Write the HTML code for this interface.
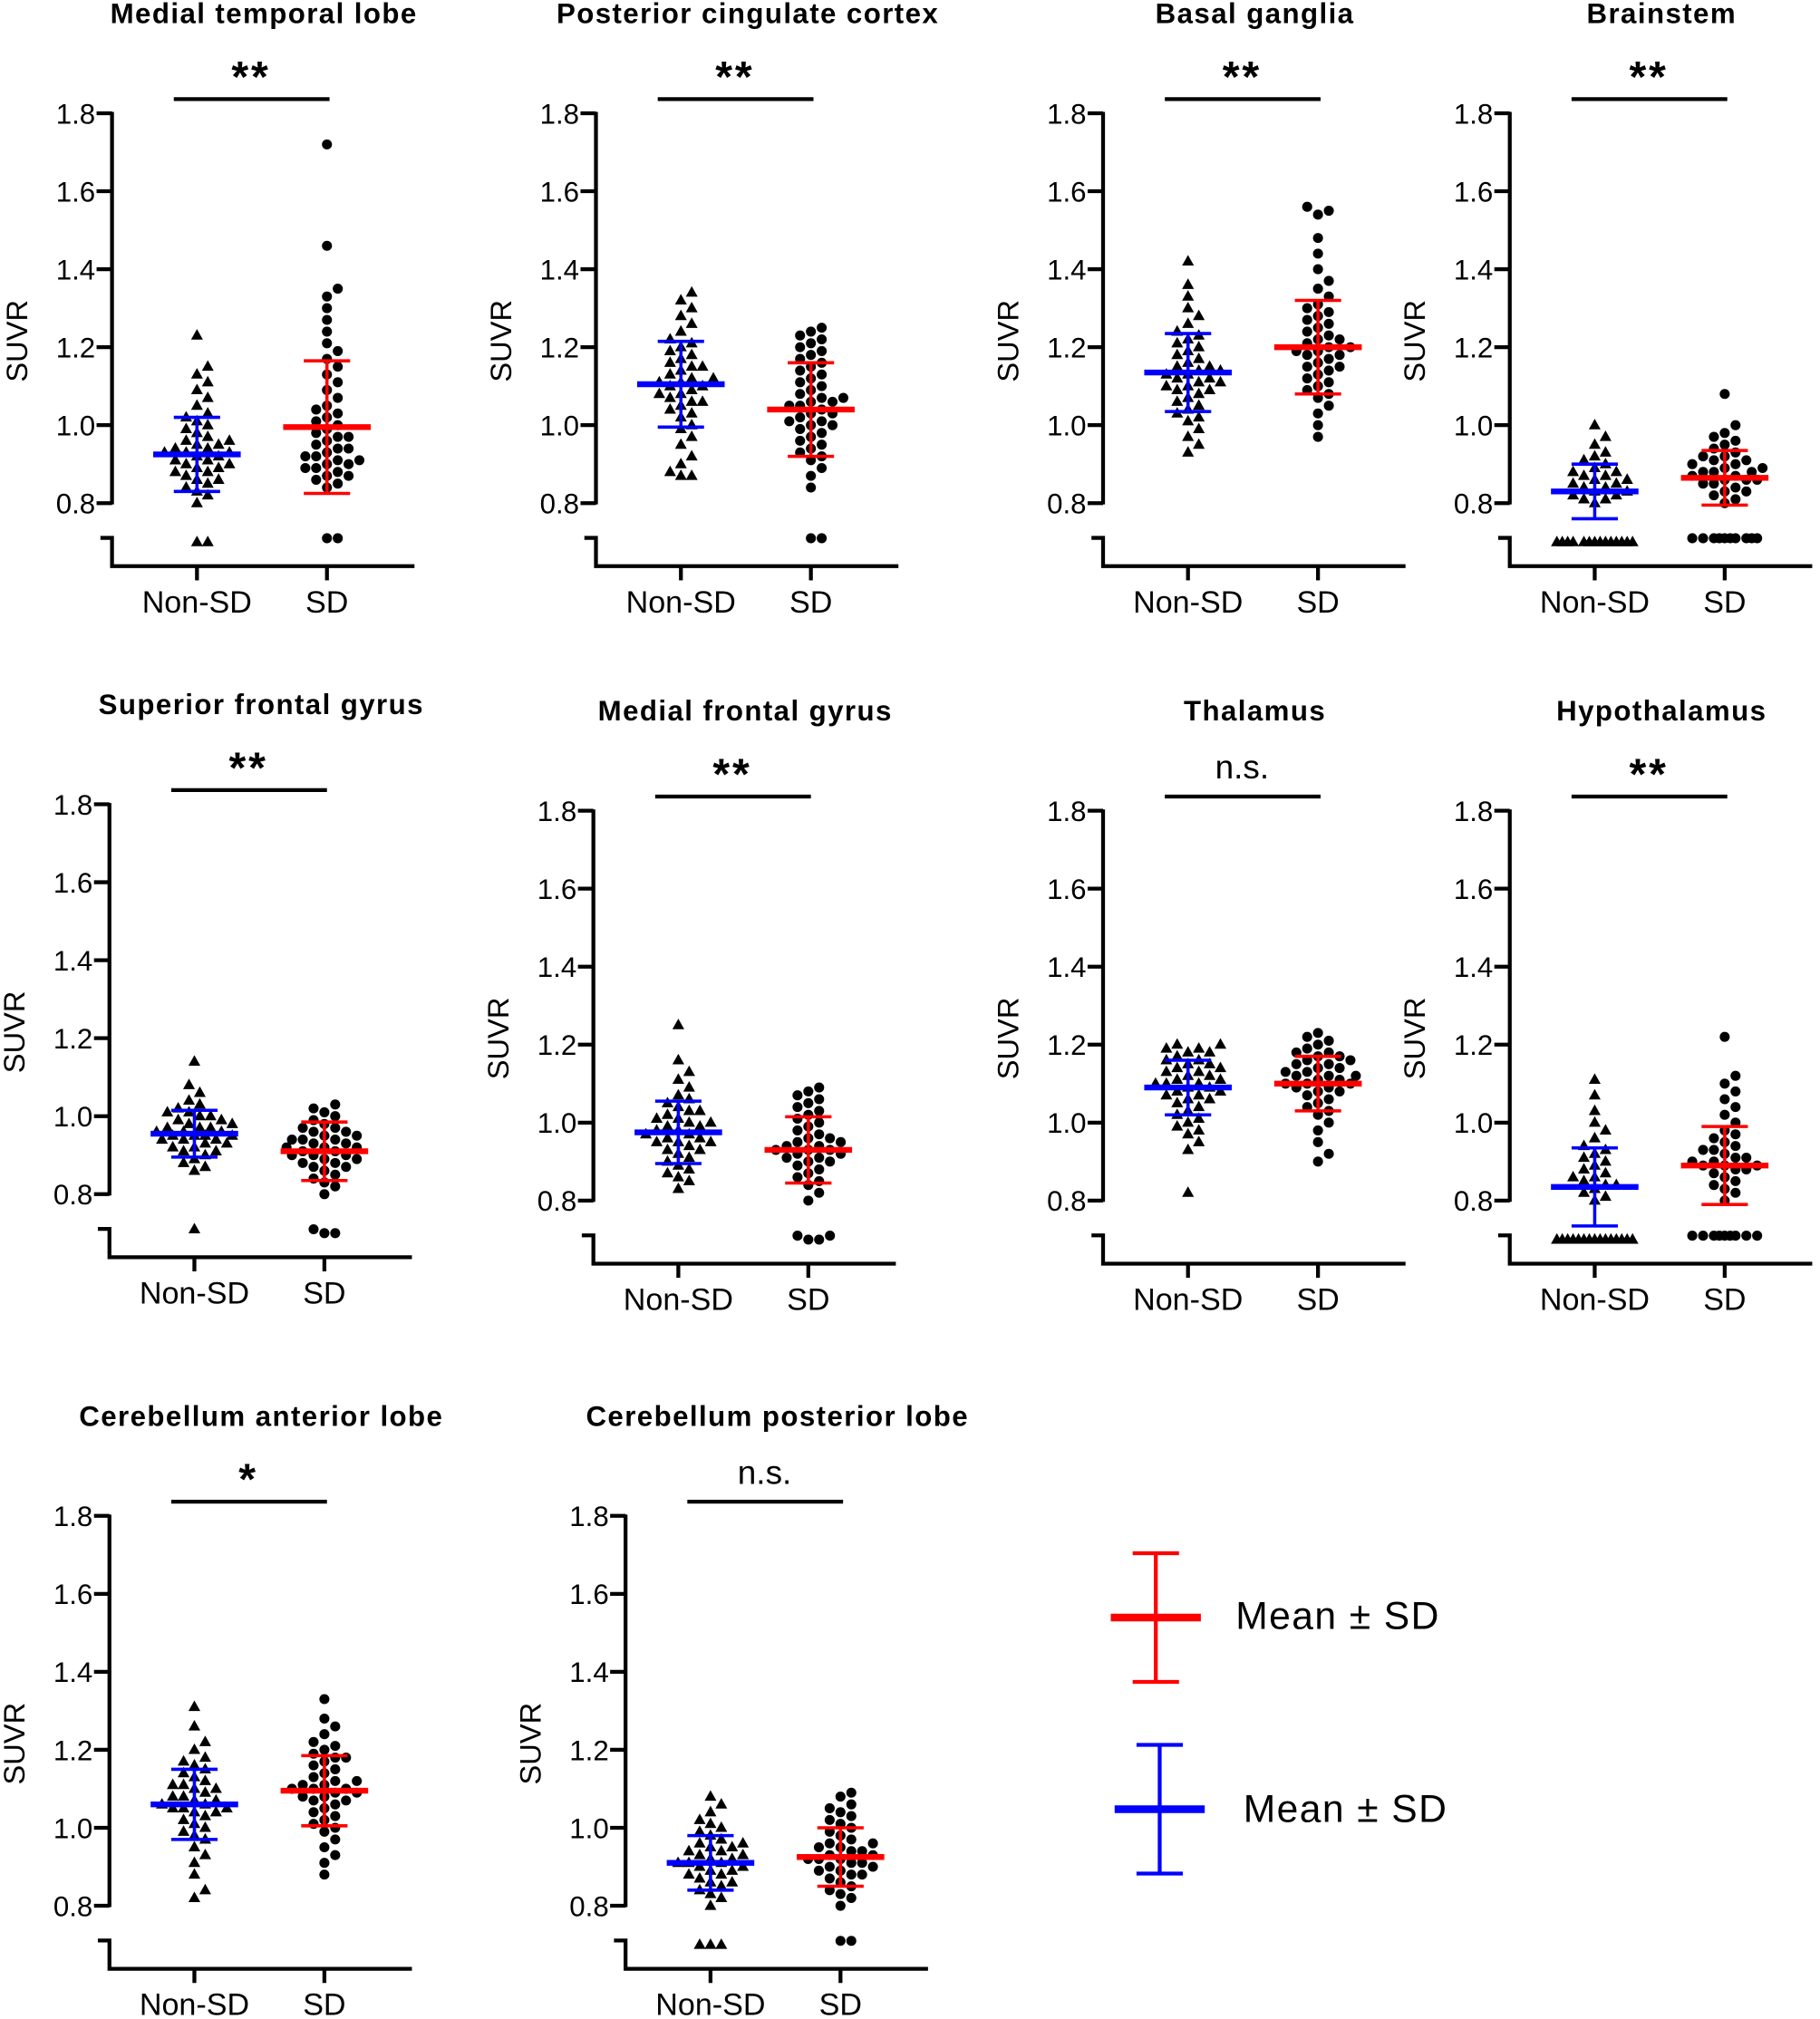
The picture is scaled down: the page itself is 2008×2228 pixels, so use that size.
<!DOCTYPE html>
<html><head><meta charset="utf-8">
<style>
html,body{margin:0;padding:0;background:#fff;}
svg{display:block;}
text{font-family:"Liberation Sans",Arial,sans-serif;fill:#000;}
</style></head>
<body>
<svg id="fig" width="2008" height="2228" viewBox="0 0 1414 1569" xmlns="http://www.w3.org/2000/svg"></svg>
<script>
// ---- chart data ----
const titles = ["Medial temporal lobe","Posterior cingulate cortex","Basal ganglia","Brainstem","Superior frontal gyrus","Medial frontal gyrus","Thalamus","Hypothalamus","Cerebellum anterior lobe","Cerebellum posterior lobe"];
const significance = ["**","**","**","**","**","**","n.s.","**","*","n.s."];
const categories = ["Non-SD","SD"];
const yTicks = [0.8,1.0,1.2,1.4,1.6,1.8];
const yTickLabels = ["0.8","1.0","1.2","1.4","1.6","1.8"];
const meanNonSD = [0.925,1.105,1.135,0.83,0.955,0.975,1.09,0.835,1.06,0.91];
const sdNonSD   = [0.095,0.11,0.10,0.07,0.06,0.08,0.07,0.10,0.09,0.07];
const meanSD    = [0.995,1.04,1.20,0.865,0.91,0.93,1.10,0.89,1.095,0.925];
const sdSD      = [0.17,0.12,0.12,0.07,0.075,0.085,0.07,0.10,0.09,0.075];
const valsNonSD = [
[0.70,0.70,0.82,0.84,0.85,0.86,0.86,0.87,0.88,0.88,0.89,0.90,0.90,0.91,0.91,0.92,0.92,0.93,0.93,0.94,0.94,0.95,0.95,0.96,0.96,0.97,0.98,0.99,1.00,1.01,1.02,1.03,1.05,1.07,1.09,1.11,1.13,1.15,0.83,0.80,0.89,0.93,1.23],
[0.87,0.88,0.90,0.92,0.95,0.97,0.99,1.00,1.02,1.03,1.04,1.05,1.06,1.07,1.08,1.09,1.10,1.10,1.11,1.12,1.12,1.13,1.14,1.15,1.15,1.16,1.17,1.18,1.19,1.20,1.21,1.22,1.24,1.26,1.28,1.30,1.32,1.34,1.11,1.06,0.87,1.08],
[0.93,0.95,0.97,0.99,1.01,1.03,1.04,1.05,1.06,1.07,1.08,1.09,1.10,1.10,1.11,1.12,1.12,1.13,1.13,1.14,1.14,1.15,1.15,1.16,1.17,1.18,1.19,1.20,1.21,1.22,1.23,1.24,1.26,1.28,1.30,1.33,1.36,1.42,1.11,1.09,1.02],
[0.70,0.70,0.70,0.70,0.70,0.70,0.70,0.70,0.70,0.70,0.70,0.70,0.70,0.70,0.80,0.81,0.82,0.82,0.83,0.84,0.84,0.85,0.85,0.86,0.86,0.87,0.87,0.88,0.88,0.89,0.90,0.91,0.92,0.93,0.95,0.97,1.00,0.83,0.81],
[0.71,0.86,0.87,0.88,0.89,0.90,0.91,0.91,0.92,0.92,0.93,0.93,0.94,0.94,0.95,0.95,0.95,0.96,0.96,0.96,0.97,0.97,0.98,0.98,0.99,0.99,1.00,1.00,1.01,1.01,1.02,1.03,1.04,1.06,1.08,1.14,0.94,0.97,0.95],
[0.83,0.85,0.86,0.87,0.88,0.89,0.90,0.91,0.92,0.93,0.93,0.94,0.95,0.95,0.96,0.96,0.97,0.97,0.98,0.98,0.99,1.00,1.00,1.01,1.01,1.02,1.03,1.03,1.04,1.05,1.06,1.07,1.09,1.11,1.13,1.16,1.25,0.95,0.99],
[0.82,0.93,0.95,0.97,0.98,0.99,1.00,1.01,1.02,1.03,1.04,1.05,1.06,1.07,1.07,1.08,1.08,1.09,1.09,1.10,1.10,1.11,1.11,1.12,1.12,1.13,1.13,1.14,1.14,1.15,1.15,1.16,1.16,1.17,1.18,1.18,1.19,1.19,1.20,1.20,1.06,1.10],
[0.70,0.70,0.70,0.70,0.70,0.70,0.70,0.70,0.70,0.70,0.70,0.70,0.70,0.70,0.70,0.80,0.81,0.82,0.83,0.84,0.85,0.86,0.87,0.88,0.89,0.90,0.91,0.92,0.93,0.94,0.96,0.98,1.00,1.03,1.07,1.11,0.84,0.86],
[0.82,0.84,0.88,0.91,0.93,0.95,0.97,0.98,0.99,1.00,1.01,1.02,1.03,1.04,1.04,1.05,1.05,1.06,1.06,1.07,1.07,1.08,1.08,1.09,1.10,1.10,1.11,1.12,1.13,1.14,1.15,1.16,1.17,1.18,1.20,1.22,1.26,1.31,1.05,1.11],
[0.70,0.70,0.70,0.80,0.82,0.83,0.84,0.85,0.86,0.86,0.87,0.88,0.88,0.89,0.89,0.90,0.90,0.91,0.91,0.92,0.92,0.93,0.93,0.94,0.94,0.95,0.96,0.96,0.97,0.98,0.99,1.00,1.01,1.02,1.04,1.06,1.08,0.91,0.95]
];
const valsSD = [
[0.71,0.71,0.84,0.85,0.86,0.87,0.87,0.88,0.89,0.89,0.90,0.90,0.91,0.92,0.92,0.93,0.94,0.94,0.95,0.96,0.97,0.98,0.99,1.00,1.01,1.02,1.03,1.05,1.07,1.09,1.11,1.13,1.15,1.17,1.19,1.21,1.24,1.27,1.30,1.33,1.35,1.46,1.72,0.91,0.97,1.04],
[0.71,0.71,0.84,0.87,0.89,0.91,0.92,0.93,0.94,0.95,0.96,0.97,0.98,0.99,1.00,1.01,1.01,1.02,1.03,1.03,1.04,1.05,1.05,1.06,1.07,1.07,1.08,1.09,1.10,1.11,1.12,1.13,1.14,1.15,1.16,1.17,1.18,1.19,1.20,1.21,1.22,1.23,1.24,1.25,1.06,1.00],
[0.97,1.00,1.03,1.05,1.07,1.08,1.09,1.10,1.11,1.12,1.13,1.14,1.15,1.15,1.16,1.17,1.18,1.18,1.19,1.20,1.20,1.21,1.22,1.23,1.24,1.25,1.26,1.27,1.28,1.29,1.30,1.31,1.33,1.35,1.37,1.40,1.44,1.48,1.54,1.55,1.56,1.19,1.22],
[0.71,0.71,0.71,0.71,0.71,0.71,0.71,0.71,0.71,0.71,0.80,0.81,0.82,0.83,0.83,0.84,0.85,0.85,0.86,0.86,0.87,0.87,0.88,0.88,0.89,0.89,0.90,0.90,0.91,0.91,0.92,0.92,0.93,0.94,0.95,0.96,0.97,0.98,1.00,1.08,0.88,0.86],
[0.70,0.70,0.71,0.80,0.82,0.83,0.84,0.85,0.86,0.87,0.87,0.88,0.88,0.89,0.89,0.90,0.90,0.91,0.91,0.92,0.92,0.93,0.93,0.94,0.94,0.95,0.95,0.96,0.96,0.97,0.97,0.98,0.99,1.00,1.01,1.02,1.03,0.92,0.90,0.94],
[0.70,0.70,0.71,0.71,0.80,0.82,0.84,0.85,0.86,0.87,0.88,0.89,0.90,0.90,0.91,0.92,0.92,0.93,0.93,0.94,0.94,0.95,0.95,0.96,0.96,0.97,0.98,0.99,1.00,1.01,1.02,1.03,1.04,1.05,1.06,1.07,1.08,1.09,0.93,0.91],
[0.90,0.92,0.95,0.98,1.00,1.02,1.03,1.04,1.05,1.06,1.07,1.08,1.08,1.09,1.09,1.10,1.10,1.11,1.11,1.12,1.12,1.13,1.13,1.14,1.14,1.15,1.15,1.16,1.16,1.17,1.17,1.18,1.18,1.19,1.20,1.21,1.22,1.23,1.10,1.12],
[0.71,0.71,0.71,0.71,0.71,0.71,0.71,0.71,0.71,0.80,0.82,0.83,0.84,0.85,0.86,0.87,0.88,0.88,0.89,0.89,0.90,0.90,0.91,0.91,0.92,0.93,0.94,0.95,0.96,0.97,0.98,1.00,1.02,1.04,1.06,1.08,1.10,1.12,1.22,0.89,0.93],
[0.88,0.91,0.93,0.95,0.97,0.99,1.00,1.01,1.02,1.03,1.04,1.05,1.06,1.07,1.08,1.08,1.09,1.09,1.10,1.10,1.11,1.11,1.12,1.12,1.13,1.14,1.15,1.16,1.17,1.18,1.18,1.19,1.20,1.21,1.22,1.24,1.26,1.28,1.33,1.10,1.07],
[0.71,0.71,0.80,0.82,0.83,0.84,0.85,0.86,0.87,0.88,0.88,0.89,0.89,0.90,0.90,0.91,0.91,0.92,0.92,0.93,0.93,0.94,0.94,0.95,0.96,0.96,0.97,0.98,0.99,1.00,1.01,1.02,1.03,1.04,1.05,1.06,1.08,1.09,0.92,0.95]
];
// ---- layout ----
const axisXs = [87,463,857,1173,85,461,857,1173,85,486];
const y18s   = [88,88,88,88,625,630,630,630,1178,1178];
const NS="http://www.w3.org/2000/svg";
const svg=document.getElementById('fig');
function el(tag,attrs,parent){const e=document.createElementNS(NS,tag);for(const k in attrs)e.setAttribute(k,attrs[k]);(parent||svg).appendChild(e);return e;}
function txt(s,attrs,parent){const t=el('text',attrs,parent);t.textContent=s;return t;}

for(let p=0;p<titles.length;p++){
  const ax=axisXs[p], y18=y18s[p], y08=y18+303;
  const yScale=v=>y08-(v-0.8)/1.0*303;
  const xCat=i=>ax+66+i*101;
  const g=el('g',{});
  
  
  const t=txt(titles[p],{x:ax+118,y:y18-70,'text-anchor':'middle','font-size':22,'font-weight':'bold','letter-spacing':'1'},g);
  
  
  const sb=el('line',{x1:ax+48,x2:ax+169,y1:y18-11,y2:y18-11,stroke:'#000','stroke-width':3},g);
  
  
  const st=txt(significance[p],{x:ax+108,y:significance[p]==='n.s.'?y18-25:y18-17,'text-anchor':'middle','font-size':significance[p]==='n.s.'?26:34,'font-weight':significance[p]==='n.s.'?'normal':'bold','letter-spacing':significance[p]==='n.s.'?'0':'2'},g);
  
  
  const ya=el('line',{x1:ax,x2:ax,y1:y18-1,y2:y08+1,stroke:'#000','stroke-width':3},g);
  
  
  yTicks.forEach((v,i)=>{
    const yy=yScale(v);
    const tk=el('line',{x1:ax-12,x2:ax,y1:yy,y2:yy,stroke:'#000','stroke-width':3},g);
    
    
    const tl=txt(yTickLabels[i],{x:ax-13,y:yy+8,'text-anchor':'end','font-size':22},g);
    
    
  });
  const yt=txt('SUVR',{x:0,y:0,'text-anchor':'middle','font-size':23,transform:`translate(${ax-66},${y18+177}) rotate(-90)`},g);
  
  
  const xa=el('path',{d:`M${ax-9},${y08+27} L${ax},${y08+27} L${ax},${y08+49} L${ax+235},${y08+49}`,fill:'none',stroke:'#000','stroke-width':3},g);
  
  
  categories.forEach((c,i)=>{
    const ct=el('line',{x1:xCat(i),x2:xCat(i),y1:y08+49,y2:y08+60,stroke:'#000','stroke-width':3},g);
    
    
    const cl=txt(c,{x:xCat(i),y:y08+85,'text-anchor':'middle','font-size':24},g);
    
    
  });
  [valsNonSD[p],valsSD[p]].forEach((vals,gi)=>{
    const cx=xCat(gi);
    const placed=[];
    const sorted=vals.slice().sort((a,b)=>a-b);
    const r=3.9, d=7.6, step=4.2, maxK=15;
    sorted.forEach(v=>{
      const yy=yScale(v);
      let best=cx, bestScore=-1, found=false;
      for(let k=0;k<maxK;k++){
        const off=(k===0?0:Math.ceil(k/2)*(k%2?1:-1))*step;
        const cand=cx+off;
        let mind=1e9;
        placed.forEach(q=>{mind=Math.min(mind,Math.hypot(q[0]-cand,q[1]-yy));});
        if(mind>=d){best=cand;found=true;break;}
        if(mind>bestScore){bestScore=mind;best=cand;}
      }
      const x=best;
      placed.push([x,yy]);
      let m;
      if(gi===0){
        m=el('polygon',{points:`${x},${yy-5} ${x-4.6},${yy+3.2} ${x+4.6},${yy+3.2}`,fill:'#000'},g);
        
      } else {
        m=el('circle',{cx:x,cy:yy,r:r,fill:'#000'},g);
        
      }
      
    });
    const mean=gi===0?meanNonSD[p]:meanSD[p], sd=gi===0?sdNonSD[p]:sdSD[p];
    const col=gi===0?'#0000ff':'#ff0000';
    const eg=el('g',{stroke:col},g);
    
    
    el('line',{x1:cx,x2:cx,y1:yScale(mean+sd),y2:yScale(mean-sd),'stroke-width':2.5},eg);
    el('line',{x1:cx-18,x2:cx+18,y1:yScale(mean+sd),y2:yScale(mean+sd),'stroke-width':2.5},eg);
    el('line',{x1:cx-18,x2:cx+18,y1:yScale(mean-sd),y2:yScale(mean-sd),'stroke-width':2.5},eg);
    el('line',{x1:cx-34,x2:cx+34,y1:yScale(mean),y2:yScale(mean),'stroke-width':4.5},eg);
  });
}
function legend(cx,cy,col,tx,ty,name){
  const g=el('g',{stroke:col});
  
  
  el('line',{x1:cx,x2:cx,y1:cy-50,y2:cy+50,'stroke-width':3},g);
  el('line',{x1:cx-18,x2:cx+18,y1:cy-50,y2:cy-50,'stroke-width':3},g);
  el('line',{x1:cx-18,x2:cx+18,y1:cy+50,y2:cy+50,'stroke-width':3},g);
  el('line',{x1:cx-35,x2:cx+35,y1:cy,y2:cy,'stroke-width':6},g);
  const t=txt('Mean ± SD',{x:tx,y:ty,'font-size':30,stroke:'none','letter-spacing':'1'},g);
  
  
}
legend(898,1257,'#ff0000',960,1266,'legend-entry-sd');
legend(901,1406,'#0000ff',966,1416,'legend-entry-non-sd');
</script>
</body></html>
